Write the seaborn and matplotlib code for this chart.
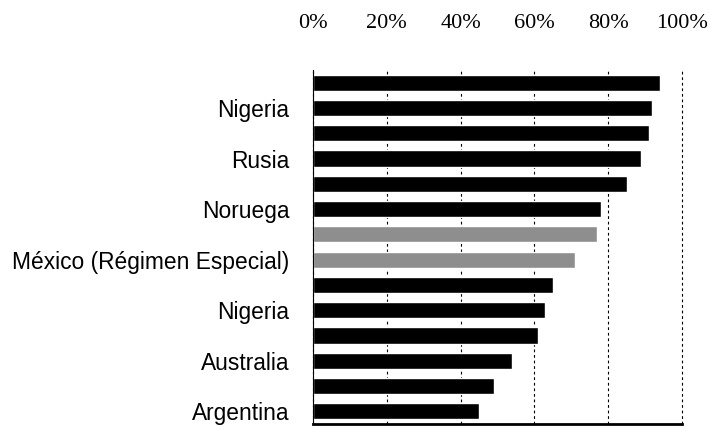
import numpy as np
import matplotlib
matplotlib.use("Agg")
import matplotlib.pyplot as plt
import seaborn as sns

# Bar labels (only every other bar carries a name) and values in percent
paises = ["", "Nigeria", "", "Rusia", "", "Noruega", "",
          "México (Régimen Especial)", "", "Nigeria", "", "Australia", "", "Argentina"]
valores = [94, 92, 91, 89, 85, 78, 77, 71, 65, 63, 61, 54, 49, 45]
destacados = [6, 7]  # bars drawn in gray (México)
ticks_pct = [0, 20, 40, 60, 80, 100]
ticks_txt = ["0%", "20%", "40%", "60%", "80%", "100%"]

sns.set_style("white")
plt.rcParams["font.family"] = ["Liberation Sans", "DejaVu Sans"]
plt.rcParams["text.color"] = "black"
plt.rcParams["xtick.color"] = "black"
plt.rcParams["ytick.color"] = "black"

idx = list(range(len(valores)))
palette = {i: ("#8e8e8e" if i in destacados else "#000000") for i in idx}

fig = plt.figure(figsize=(7.1, 4.3), dpi=100)
ax = fig.add_axes([313 / 710, 1 - 424 / 430, (682 - 313) / 710, (424 - 70) / 430])

sns.barplot(x=valores, y=idx, orient="h", hue=idx, palette=palette,
            legend=False, width=0.64, saturation=1, ax=ax, zorder=2)

ax.set_xlim(0, 100)
ax.set_ylim(len(valores) - 0.5, -0.5)

# Percent scale along the top
ax.xaxis.tick_top()
ax.set_xticks(ticks_pct)
ax.set_xticklabels(ticks_txt, family=["Liberation Serif", "DejaVu Serif"],
                   fontsize=16, color="black")
ax.tick_params(axis="x", length=0, pad=27)
ax.set_xlabel("")
ax.set_ylabel("")

# Category labels on every other bar, ticks at bar boundaries
ax.set_yticks(idx)
ax.set_yticklabels(paises, fontsize=16.4, color="black")
ax.tick_params(axis="y", which="major", length=0, pad=17)
ax.set_yticks(np.arange(-0.5, len(valores), 1), minor=True)
ax.tick_params(axis="y", which="minor", length=4, width=0.8, direction="out", color="black")

ax.grid(axis="x", linestyle=(0, (2.5, 2.5)), color="black", linewidth=0.8, zorder=0)
ax.grid(axis="y", visible=False)
ax.set_axisbelow(True)
for gl in ax.get_xgridlines():
    gl.set_clip_on(False)

for s in ["top", "right"]:
    ax.spines[s].set_visible(False)
ax.spines["left"].set_color("black")
ax.spines["left"].set_linewidth(0.8)
ax.spines["bottom"].set_color("black")
ax.spines["bottom"].set_linewidth(2)

fig.savefig("out.png", dpi=100)
